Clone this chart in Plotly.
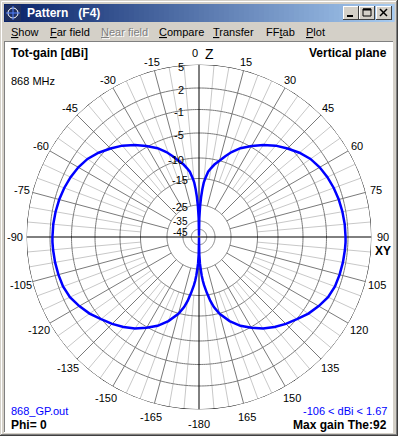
import numpy as np
import plotly.graph_objects as go

# ---------------- data ----------------
THETA_DEG = [0, 1, 2, 3, 4, 5, 6, 8, 10, 12, 15, 18, 21, 25, 30, 35, 40, 45, 50, 55,
             60, 65, 70, 75, 80, 85, 90, 92, 95, 100, 105, 110, 115, 120, 125, 130,
             135, 140, 145, 150, 155, 160, 165, 168, 170, 172, 174, 175, 176, 177,
             178, 179, 180]
GAIN_DBI = [-99, -33, -26, -22, -19, -16.5, -15, -13.2, -12.2, -11.2, -10.0, -8.8, -7.6,
            -6.2, -4.8, -3.6, -2.4, -1.4, -0.5, 0.2, 0.65, 0.98, 1.22, 1.40, 1.53, 1.62,
            1.66, 1.67, 1.65, 1.6, 1.52, 1.4, 1.08, 0.5, -0.15, -0.95, -1.8, -2.7, -3.7,
            -4.85, -6.2, -7.9, -9.9, -11.8, -13.5, -15.8, -18.8, -20.5, -22.5, -25,
            -28.5, -34, -106]
RING_DB = [5, 2, -1, -5, -10, -15, -25, -35, -45]
ANGLE_TICKS = list(range(0, 360, 15))
ANGLE_LABELS = [str(a if a < 180 else a - 360) for a in ANGLE_TICKS]
MENU_ITEMS = ["Show", "Far field", "Near field", "Compare", "Transfer", "FFtab", "Plot"]
MENU_HOTKEY = [0, 0, 0, 0, 0, 2, 0]

# ---------------- geometry / style ----------------
W, H = 398, 436
CX, CY, RPX = 199, 237, 172.5
FONT = "Liberation Sans, Arial, sans-serif"

# 4nec2 log-type radial scale: dBi -> fraction of outer radius
_SCALE_DB = [-110, -45, -35, -25, -15, -10, -5, -1, 2, 5]
_SCALE_FR = np.array([0, 7.7, 16, 32, 58.5, 79, 104, 127.5, 149, 172.5]) / 172.5


def rscale(g):
    return np.interp(g, _SCALE_DB, _SCALE_FR)


def px(x):
    return x / W


def py(y):
    return 1 - y / H


fig = go.Figure()

# ---- grid ----
light_t, light_r = [], []
dark_t, dark_r = [], []
axis_t, axis_r = [], []
for a in range(0, 360, 5):
    if a % 90 == 0:
        axis_t += [a, a, None]
        axis_r += [0, 1, None]
    elif a % 15 == 0:
        dark_t += [a, a, None]
        dark_r += [float(rscale(-25)), 1, None]
    else:
        light_t += [a, a, None]
        light_r += [float(rscale(-15)), 1, None]

fig.add_trace(go.Scatterpolar(theta=light_t, r=light_r, mode="lines",
                              line=dict(color="#c8c8c8", width=1), hoverinfo="skip"))
fig.add_trace(go.Scatterpolar(theta=dark_t, r=dark_r, mode="lines",
                              line=dict(color="#7a7a7a", width=1), hoverinfo="skip"))
circ = np.arange(0, 361, 1)
for g in RING_DB:
    outer = g == RING_DB[0]
    fig.add_trace(go.Scatterpolar(theta=circ, r=np.full(circ.shape, float(rscale(g))),
                                  mode="lines",
                                  line=dict(color="#000000" if outer else "#7a7a7a", width=1),
                                  hoverinfo="skip"))
fig.add_trace(go.Scatterpolar(theta=axis_t, r=axis_r, mode="lines",
                              line=dict(color="#000000", width=1), hoverinfo="skip"))

# ---- pattern (phi=0 on the right, phi=180 mirrored on the left) ----
th_full = list(THETA_DEG) + [360 - t for t in reversed(THETA_DEG)]
g_full = list(GAIN_DBI) + list(reversed(GAIN_DBI))
fig.add_trace(go.Scatterpolar(theta=th_full, r=rscale(g_full), mode="lines",
                              line=dict(color="#0000ff", width=2.5), hoverinfo="skip"))

shapes = []


def rect(x0, y0, x1, y1, fill, lc=None, lw=0):
    shapes.append(dict(type="rect", xref="paper", yref="paper", x0=px(x0), x1=px(x1),
                       y0=py(y1), y1=py(y0), fillcolor=fill,
                       line=dict(color=lc or fill, width=lw), layer="below"))


def line(x0, y0, x1, y1, color, w=1):
    shapes.append(dict(type="line", xref="paper", yref="paper", x0=px(x0), x1=px(x1),
                       y0=py(y0), y1=py(y1), line=dict(color=color, width=w), layer="below"))


# window frame
line(0.5, 0.5, 397.5, 0.5, "#d4d0c8")
line(1.5, 1.5, 396, 1.5, "#ffffff")
line(1.5, 1.5, 1.5, 434.5, "#ffffff")
line(397.5, 0, 397.5, 436, "#404040")
line(0, 435.5, 398, 435.5, "#404040")
line(396.5, 1, 396.5, 435, "#808080")
line(1, 434.5, 397, 434.5, "#808080")

# title bar gradient
c0 = np.array([0x0a, 0x24, 0x6a])
c1 = np.array([0xa6, 0xca, 0xf0])
n = 78
for i in range(n):
    f = i / (n - 1)
    c = (c0 + (c1 - c0) * f).astype(int)
    x0 = 4 + i * 390 / n
    rect(x0, 4, x0 + 390 / n + 0.6, 22, "rgb(%d,%d,%d)" % tuple(c))
# icon
rect(5, 5, 21, 21, "#203060")
shapes.append(dict(type="circle", xref="paper", yref="paper", x0=px(8), x1=px(18),
                   y0=py(18), y1=py(8), line=dict(color="#ffffff", width=1), layer="below"))
line(13, 6, 13, 20, "#5080ff")
line(6, 13, 20, 13, "#5080ff")
# caption buttons
for bx in (343, 359, 376):
    rect(bx, 6, bx + 16, 20, "#d4d0c8")
    line(bx + 0.5, 6, bx + 0.5, 20, "#ffffff")
    line(bx, 6.5, bx + 16, 6.5, "#ffffff")
    line(bx + 15.5, 6, bx + 15.5, 20, "#404040")
    line(bx, 19.5, bx + 16, 19.5, "#404040")
line(347, 16, 353, 16, "#000000", 2)
rect(363, 9, 371, 16, "rgba(0,0,0,0)", "#000000", 1)
line(363, 9.5, 371, 9.5, "#000000", 2)
line(380, 9, 387, 16, "#000000", 1.5)
line(387, 9, 380, 16, "#000000", 1.5)

# client area
rect(5, 42, 392, 432, "#ffffff")
line(4, 41.5, 393, 41.5, "#808080")
line(4.5, 41, 4.5, 433, "#808080")
line(392.5, 42, 392.5, 433, "#ffffff")
line(4, 432.5, 393, 432.5, "#ffffff")

ann = []


def text(x, y, s, size=11, bold=False, color="#000000", xanchor="left"):
    ann.append(dict(x=px(x), y=py(y), xref="paper", yref="paper", text=("<b>%s</b>" % s) if bold else s,
                    showarrow=False, xanchor=xanchor, yanchor="middle",
                    font=dict(family=FONT, size=size, color=color)))


# title
text(25, 13, "Pattern&nbsp;&nbsp;&nbsp;(F4)", 12, True, "#ffffff")

# menu
menu_x = [9, 48, 99, 157, 211, 264, 304]
for mx, item, k in zip(menu_x, MENU_ITEMS, MENU_HOTKEY):
    s = item[:k] + '<span style="text-decoration:underline">' + item[k] + "</span>" + item[k + 1:]
    if item == "Near field":
        text(mx + 1, 33, s, 11, False, "#ffffff")
        text(mx, 32, s, 11, False, "#808080")
    else:
        text(mx, 32, s, 11)

# plot texts
text(9, 52.5, "Tot-gain [dBi]", 12, True)
text(389, 52.5, "Vertical plane", 12, True, xanchor="right")
text(9, 81, "868 MHz", 11)
text(9, 411, "868_GP.out", 11, color="#0000ff")
text(9, 424.5, "Phi= 0", 12, True)
text(389, 411, "-106 &lt; dBi &lt; 1.67", 11, color="#0000ff", xanchor="right")
text(389, 424.5, "Max gain The:92", 12, True, xanchor="right")
text(194.5, 53, "0", 11, xanchor="center")
text(209, 54, "Z", 14, xanchor="center")
text(383, 250.5, "XY", 12, True, xanchor="center")

# angle labels around the circle
for a, s in zip(ANGLE_TICKS, ANGLE_LABELS):
    if a == 0:
        continue
    rr = 184 - 2.5 * np.cos(np.radians(a))
    text(CX + rr * np.sin(np.radians(a)), CY - rr * np.cos(np.radians(a)), s, 11,
         xanchor="center")

# ring (dB) labels
for g in RING_DB:
    yy = CY - RPX * float(rscale(g)) + 2
    if g == -45:
        yy += 1.5
    if g == -35:
        yy -= 1
    xr = 186 if g >= -10 else 190
    text(xr, yy, str(g), 10 if g in (-35, -45) else 11, xanchor="right")

fig.update_layout(
    width=W, height=H, margin=dict(l=0, r=0, t=0, b=0),
    paper_bgcolor="#d4d0c8", plot_bgcolor="#d4d0c8", showlegend=False,
    shapes=shapes, annotations=ann,
    polar=dict(
        domain=dict(x=[(CX - RPX) / W, (CX + RPX) / W],
                    y=[(H - CY - RPX) / H, (H - CY + RPX) / H]),
        bgcolor="rgba(0,0,0,0)",
        radialaxis=dict(visible=False, range=[0, 1]),
        angularaxis=dict(visible=False, rotation=90, direction="clockwise"),
    ),
)

fig.write_html("out.html", config={"displayModeBar": False},
               post_script="document.body.style.margin='0';document.body.style.overflow='hidden';")
